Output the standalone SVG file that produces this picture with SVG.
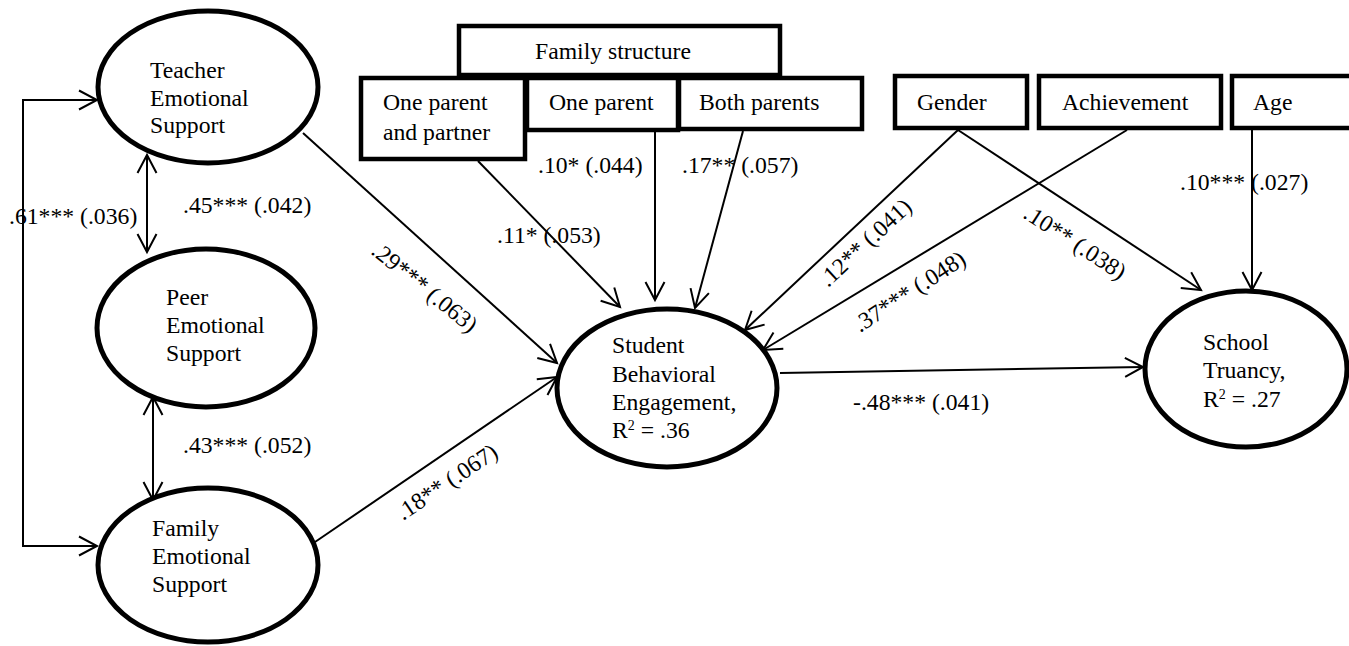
<svg xmlns="http://www.w3.org/2000/svg" width="1349" height="646" viewBox="0 0 1349 646">
<defs>
<style>
text { font-family: "Liberation Serif", "Times New Roman", serif; font-size: 23.7px; fill: #000; }
.node ellipse { fill: #fff; stroke: #000; stroke-width: 5; }
.node rect { fill: #fff; stroke: #000; stroke-width: 4.5; }
.conn { fill: none; stroke: #000; stroke-width: 2; }
.sup { font-size: 14px; }
</style>
<marker id="ah" viewBox="-21 -12 24 24" refX="0" refY="0" markerWidth="24" markerHeight="24" markerUnits="userSpaceOnUse" orient="auto-start-reverse">
<path d="M-18,-9.5 L0,0 L-18,9.5" fill="none" stroke="#000" stroke-width="2"/>
</marker>
</defs>
<rect width="1349" height="646" fill="#fff"/>

<g id="connectors">
<path class="conn" d="M303,133 L557,363" marker-end="url(#ah)"/>
<path class="conn" d="M315,542 L557,377" marker-end="url(#ah)"/>
<path class="conn" d="M478,161 L620,307" marker-end="url(#ah)"/>
<path class="conn" d="M655,132 L655,300" marker-end="url(#ah)"/>
<path class="conn" d="M743,131 L695,308" marker-end="url(#ah)"/>
<path class="conn" d="M958,130 L745,330" marker-end="url(#ah)"/>
<path class="conn" d="M958,130 L1201,290" marker-end="url(#ah)"/>
<path class="conn" d="M1127,130 L763,350" marker-end="url(#ah)"/>
<path class="conn" d="M1252,130 L1252,290" marker-end="url(#ah)"/>
<path class="conn" d="M780,373 L1143,367" marker-end="url(#ah)"/>
<path class="conn" d="M147,155 L147,252" marker-start="url(#ah)" marker-end="url(#ah)"/>
<path class="conn" d="M153,397 L153,500" marker-start="url(#ah)" marker-end="url(#ah)"/>
<path class="conn" d="M97,100 L23,100 L23,546 L97,546" marker-start="url(#ah)" marker-end="url(#ah)"/>
</g>

<g id="teacher" class="node">
<ellipse cx="208" cy="87" rx="110" ry="76"/>
<text x="150" y="78">Teacher</text>
<text x="150" y="105.5">Emotional</text>
<text x="150" y="133">Support</text>
</g>

<g id="peer" class="node">
<ellipse cx="206" cy="328" rx="109" ry="79"/>
<text x="166" y="305">Peer</text>
<text x="166" y="333">Emotional</text>
<text x="166" y="361">Support</text>
</g>

<g id="family" class="node">
<ellipse cx="208" cy="565" rx="110" ry="77"/>
<text x="152" y="536">Family</text>
<text x="152" y="564">Emotional</text>
<text x="152" y="592">Support</text>
</g>

<g id="student" class="node">
<ellipse cx="667" cy="388" rx="110" ry="79"/>
<text x="612" y="353">Student</text>
<text x="612" y="382">Behavioral</text>
<text x="612" y="410">Engagement,</text>
<text x="612" y="438">R<tspan class="sup" dy="-8">2</tspan><tspan dy="8"> = .36</tspan></text>
</g>

<g id="truancy" class="node">
<ellipse cx="1246" cy="369" rx="101" ry="78"/>
<text x="1203" y="350">School</text>
<text x="1203" y="378">Truancy,</text>
<text x="1203" y="407">R<tspan class="sup" dy="-8">2</tspan><tspan dy="8"> = .27</tspan></text>
</g>

<g id="family-structure" class="node">
<rect x="459" y="26" width="321" height="49"/>
<text x="535" y="59">Family structure</text>
</g>

<g id="one-parent-partner" class="node">
<rect x="361" y="78" width="164" height="81"/>
<text x="383" y="110">One parent</text>
<text x="383" y="140">and partner</text>
</g>

<g id="one-parent" class="node">
<rect x="527" y="78" width="151" height="52"/>
<text x="549" y="110">One parent</text>
</g>

<g id="both-parents" class="node">
<rect x="679" y="78" width="183" height="51"/>
<text x="699" y="110">Both parents</text>
</g>

<g id="gender" class="node">
<rect x="895" y="76" width="132" height="52"/>
<text x="917" y="110">Gender</text>
</g>

<g id="achievement" class="node">
<rect x="1039" y="76" width="182" height="52"/>
<text x="1062" y="110">Achievement</text>
</g>

<g id="age" class="node">
<rect x="1232" y="76" width="125" height="52"/>
<text x="1253" y="110">Age</text>
</g>

<g id="labels">
<text x="9" y="224">.61*** (.036)</text>
<text x="183" y="213">.45*** (.042)</text>
<text x="183" y="453">.43*** (.052)</text>
<text transform="translate(370,253) rotate(39)">.29*** (.063)</text>
<text transform="translate(403,521) rotate(-34)">.18** (.067)</text>
<text x="497" y="243">.11* (.053)</text>
<text x="538" y="173">.10* (.044)</text>
<text x="682" y="173">.17** (.057)</text>
<text transform="translate(828,288) rotate(-43)">.12** (.041)</text>
<text transform="translate(860,333) rotate(-33)">.37*** (.048)</text>
<text transform="translate(1022,217) rotate(33)">.10** (.038)</text>
<text x="1180" y="190">.10*** (.027)</text>
<text x="853" y="410">-.48*** (.041)</text>
</g>
</svg>
